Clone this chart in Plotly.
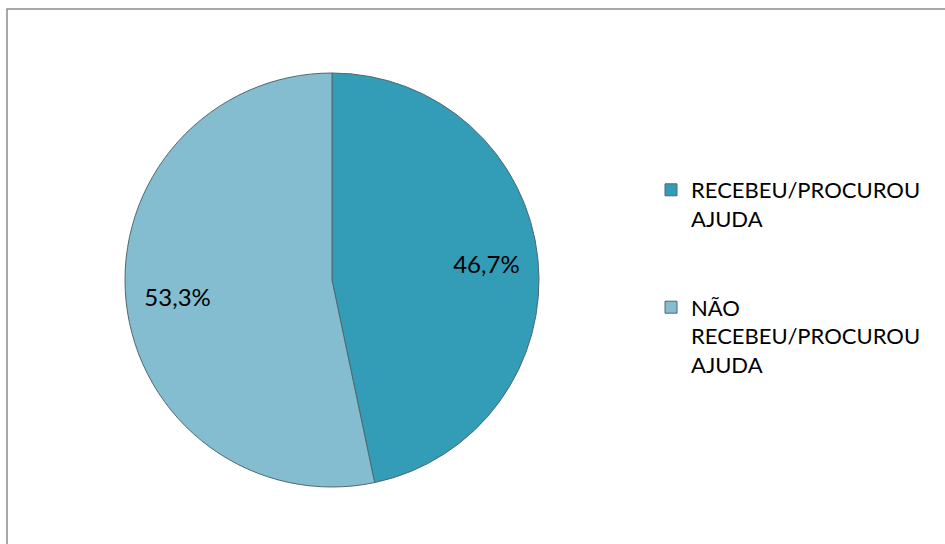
import plotly.graph_objects as go

# Respostas sobre ajuda recebida/procurada
categorias = ["RECEBEU/PROCUROU<br>AJUDA<br> <br> ", "NÃO<br>RECEBEU/PROCUROU<br>AJUDA"]
percentuais = [46.7, 53.3]
cores = ["#339CB7", "#84BDD0"]

W, H = 945, 544
dominio = dict(x=[125 / W, 539 / W], y=[1 - 487 / H, 1 - 73 / H])

fig = go.Figure()

# Fatias
fig.add_trace(
    go.Pie(
        labels=categorias,
        values=percentuais,
        sort=False,
        direction="clockwise",
        rotation=0,
        marker=dict(colors=cores, line=dict(color="#4F6870", width=1)),
        textinfo="none",
        hovertemplate="%{value:.1f}%<extra></extra>",
        domain=dominio,
    )
)

# Rótulos de percentual, posicionados no meio do anel externo
fig.add_trace(
    go.Pie(
        labels=categorias,
        values=percentuais,
        sort=False,
        direction="clockwise",
        rotation=0,
        hole=0.5,
        marker=dict(colors=["rgba(0,0,0,0)"] * 2, line=dict(width=0)),
        texttemplate="%{value:.1f}%",
        textposition="inside",
        insidetextorientation="horizontal",
        textfont=dict(family="Lato", size=24, color="#000000"),
        hoverinfo="skip",
        showlegend=False,
        domain=dominio,
    )
)

fig.update_layout(
    width=W,
    height=H,
    margin=dict(l=0, r=0, t=0, b=0),
    paper_bgcolor="#FFFFFF",
    plot_bgcolor="#FFFFFF",
    separators=",.",
    font=dict(family="Lato", color="#000000"),
    showlegend=True,
    legend=dict(
        x=651 / W,
        y=1 - 169 / H,
        xanchor="left",
        yanchor="top",
        valign="top",
        font=dict(family="Lato", size=22, color="#000000"),
        itemwidth=30,
        tracegroupgap=0,
        bgcolor="rgba(0,0,0,0)",
    ),
    shapes=[
        dict(
            type="rect",
            xref="paper",
            yref="paper",
            x0=7 / W,
            x1=1.02,
            y0=-0.02,
            y1=1 - 9 / H,
            line=dict(color="#8C8C8C", width=1.5),
            fillcolor="rgba(0,0,0,0)",
            layer="below",
        )
    ],
)

fig.write_html("out.html")
